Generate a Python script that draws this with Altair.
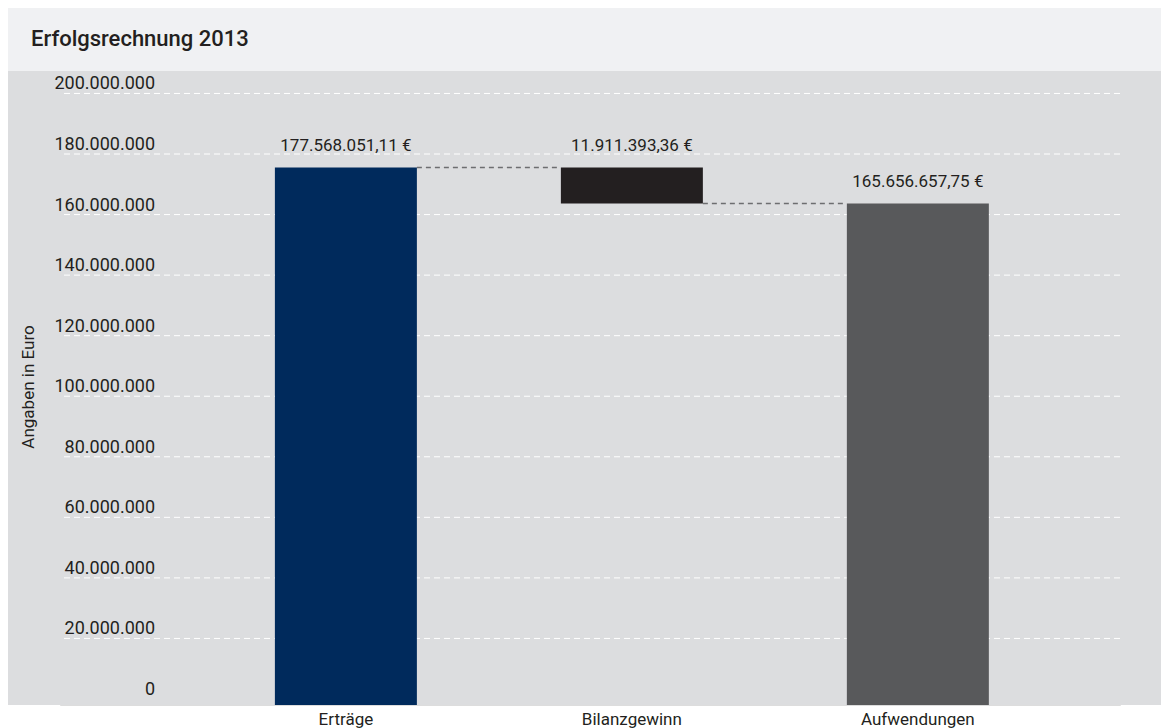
import altair as alt
import pandas as pd

# ---- data ----
categories = ["Erträge", "Bilanzgewinn", "Aufwendungen"]
values = [177568051.11, 11911393.36, 165656657.75]
value_labels = ["177.568.051,11 €", "11.911.393,36 €", "165.656.657,75 €"]
bar_colors = ["#002a5c", "#231f20", "#58595b"]
y_ticks = [0, 20000000, 40000000, 60000000, 80000000, 100000000,
           120000000, 140000000, 160000000, 180000000, 200000000]
y_tick_labels = ["0", "20.000.000", "40.000.000", "60.000.000", "80.000.000",
                 "100.000.000", "120.000.000", "140.000.000", "160.000.000",
                 "180.000.000", "200.000.000"]
title_text = "Erfolgsrechnung 2013"
y_title = "Angaben in Euro"

ertraege, gewinn, aufwendungen = values
bars_df = pd.DataFrame({
    "cat": categories,
    "start": [0, aufwendungen, 0],
    "end": [ertraege, aufwendungen + gewinn, aufwendungen],
    "label": value_labels,
    "color": bar_colors,
})
conn_df = pd.DataFrame({
    "from": [categories[0], categories[1]],
    "to": [categories[1], categories[2]],
    "level": [ertraege, aufwendungen],
})
ticks_df = pd.DataFrame({"v": y_ticks, "label": y_tick_labels})
grid_df = ticks_df[ticks_df["v"] > 0]
one = pd.DataFrame({"k": [0]})

W, H = 1060, 634
PAD_L, PAD_R = 52, 41
TXT = "#231f20"
FONT = "Roboto"

x_scale = alt.Scale(domain=categories, paddingInner=0.5035, paddingOuter=0.605,
                    align=0.621, round=False)
y_scale = alt.Scale(domain=[0, 209400000], nice=False)

bg = alt.Chart(one).mark_rect(color="#dcdddf").encode(
    x=alt.value(-PAD_L), x2=alt.value(W + PAD_R), y=alt.value(0), y2=alt.value(H))
band = alt.Chart(one).mark_rect(color="#f0f1f3").encode(
    x=alt.value(-PAD_L), x2=alt.value(W + PAD_R), y=alt.value(-63), y2=alt.value(0))
title = alt.Chart(one).mark_text(
    align="left", baseline="alphabetic", fontSize=22, fontWeight=500, color=TXT
).encode(x=alt.value(-29), y=alt.value(-25), text=alt.value(title_text))
ytitle = alt.Chart(one).mark_text(
    angle=270, align="center", baseline="middle", fontSize=17, color=TXT
).encode(x=alt.value(-31), y=alt.value(316), text=alt.value(y_title))

grid = alt.Chart(grid_df).mark_rule(
    color="white", strokeDash=[6, 4], strokeWidth=1, yOffset=-6
).encode(y=alt.Y("v:Q", scale=y_scale, axis=None))

tick_labels = alt.Chart(ticks_df).mark_text(
    align="right", baseline="alphabetic", dy=-10, fontSize=18, color=TXT
).encode(x=alt.value(95), y=alt.Y("v:Q", scale=y_scale, axis=None), text="label:N")

connectors = alt.Chart(conn_df).mark_rule(
    color="#6d6e70", strokeDash=[5, 4], strokeWidth=1.5
).encode(
    x=alt.X("from:N", scale=x_scale, bandPosition=1),
    x2=alt.X2("to:N", bandPosition=0),
    y=alt.Y("level:Q", scale=y_scale, axis=None),
)

bars = alt.Chart(bars_df).mark_bar().encode(
    x=alt.X("cat:N", scale=x_scale, axis=alt.Axis(
        title=None, labelAngle=0, labelBaseline="top", labelAlign="center",
        domain=False, ticks=False, grid=False,
        labelPadding=6, labelFontSize=17, labelColor=TXT, labelFont=FONT)),
    y=alt.Y("end:Q", scale=y_scale, axis=None),
    y2="start:Q",
    color=alt.Color("color:N", scale=None),
)

value_text = alt.Chart(bars_df).mark_text(
    baseline="alphabetic", dy=-16, fontSize=17, color=TXT
).encode(
    x=alt.X("cat:N", scale=x_scale),
    y=alt.Y("end:Q", scale=y_scale, axis=None),
    text="label:N",
)

chart = alt.layer(
    bg, band, grid, connectors, bars, value_text, tick_labels, title, ytitle
).properties(
    width=W, height=H,
    autosize=alt.AutoSizeParams(type="none"),
    padding={"left": PAD_L, "top": 63, "right": PAD_R, "bottom": 24},
).configure_view(stroke=None).configure(font=FONT)

chart.save("out.html", embed_options={"renderer": "svg", "actions": False})
